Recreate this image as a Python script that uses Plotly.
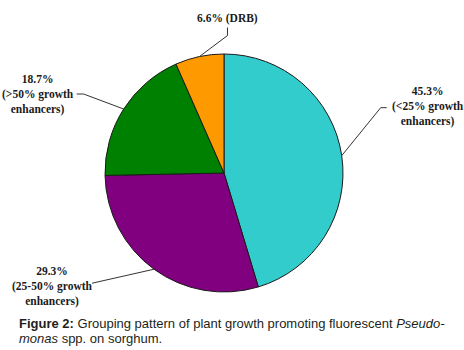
import math
import plotly.graph_objects as go

categories = ["<25% growth enhancers", "25-50% growth enhancers", ">50% growth enhancers", "DRB"]
values = [45.3, 29.3, 18.7, 6.6]
label_texts = [
    "45.3%<br>(<25% growth<br>enhancers)",
    "29.3%<br>(25-50% growth<br>enhancers)",
    "18.7%<br>(>50% growth<br>enhancers)",
    "6.6% (DRB)",
]
colors = ["#33CCCC", "#800080", "#008000", "#FF9900"]
caption_lines = [
    "<b>Figure 2:</b> Grouping pattern of plant growth promoting fluorescent <i>Pseudo-</i>",
    "<i>monas</i> spp. on sorghum.",
]

W, H = 464, 350
CX, CY, R = 224, 173, 119  # pie centre / radius in pixels


def px(x):
    return x / W


def py(y):
    return 1 - y / H


fig = go.Figure()
fig.add_trace(go.Pie(
    labels=categories,
    values=values,
    sort=False,
    direction="clockwise",
    rotation=0,
    marker=dict(colors=colors, line=dict(color="#1a1a1a", width=1)),
    textinfo="none",
    hoverinfo="label+percent",
    showlegend=False,
    domain=dict(x=[px(CX - R), px(CX + R)], y=[py(CY + R), py(CY - R)]),
))

layout_spec = [
    dict(elbow=(39, -48), end=(45, -48), text=(428, 106)),
    dict(elbow=(-62, 14), end=(-62, 14), text=(52, 286)),
    dict(elbow=(-40, -15), end=(-47, -15), text=(38, 94)),
    dict(elbow=(28, -21), end=(28, -29), text=(227, 19)),
]

total = sum(values)
cum = 0
annotations = []
shapes = []
for v, txt, spec in zip(values, label_texts, layout_spec):
    mid = (cum + v / 2) / total * 2 * math.pi
    cum += v
    ex = CX + R * math.sin(mid)
    ey = CY - R * math.cos(mid)
    bx, by = ex + spec["elbow"][0], ey + spec["elbow"][1]
    fx, fy = ex + spec["end"][0], ey + spec["end"][1]
    path = f"M {px(ex)},{py(ey)} L {px(bx)},{py(by)} L {px(fx)},{py(fy)}"
    shapes.append(dict(type="path", xref="paper", yref="paper", path=path,
                       line=dict(color="#333333", width=1)))
    annotations.append(dict(
        x=px(spec["text"][0]), y=py(spec["text"][1]), xref="paper", yref="paper",
        text=f"<b>{txt}</b>", showarrow=False, xanchor="center", yanchor="middle",
        align="center",
        font=dict(family="Liberation Serif, Times New Roman, serif", size=11.5, color="#1a1a1a"),
    ))

for i, line in enumerate(caption_lines):
    annotations.append(dict(
        x=px(17), y=py(323 + 15 * i), xref="paper", yref="paper", xanchor="left", yanchor="middle",
        align="left", showarrow=False, text=line,
        font=dict(family="Liberation Sans, Arial, sans-serif", size=13, color="#231f20"),
    ))

fig.update_layout(
    width=W, height=H,
    margin=dict(l=0, r=0, t=0, b=0),
    paper_bgcolor="white", plot_bgcolor="white",
    shapes=shapes, annotations=annotations,
)

fig.write_html("out.html", config={"displayModeBar": False},
               post_script="document.body.style.margin='0';")
